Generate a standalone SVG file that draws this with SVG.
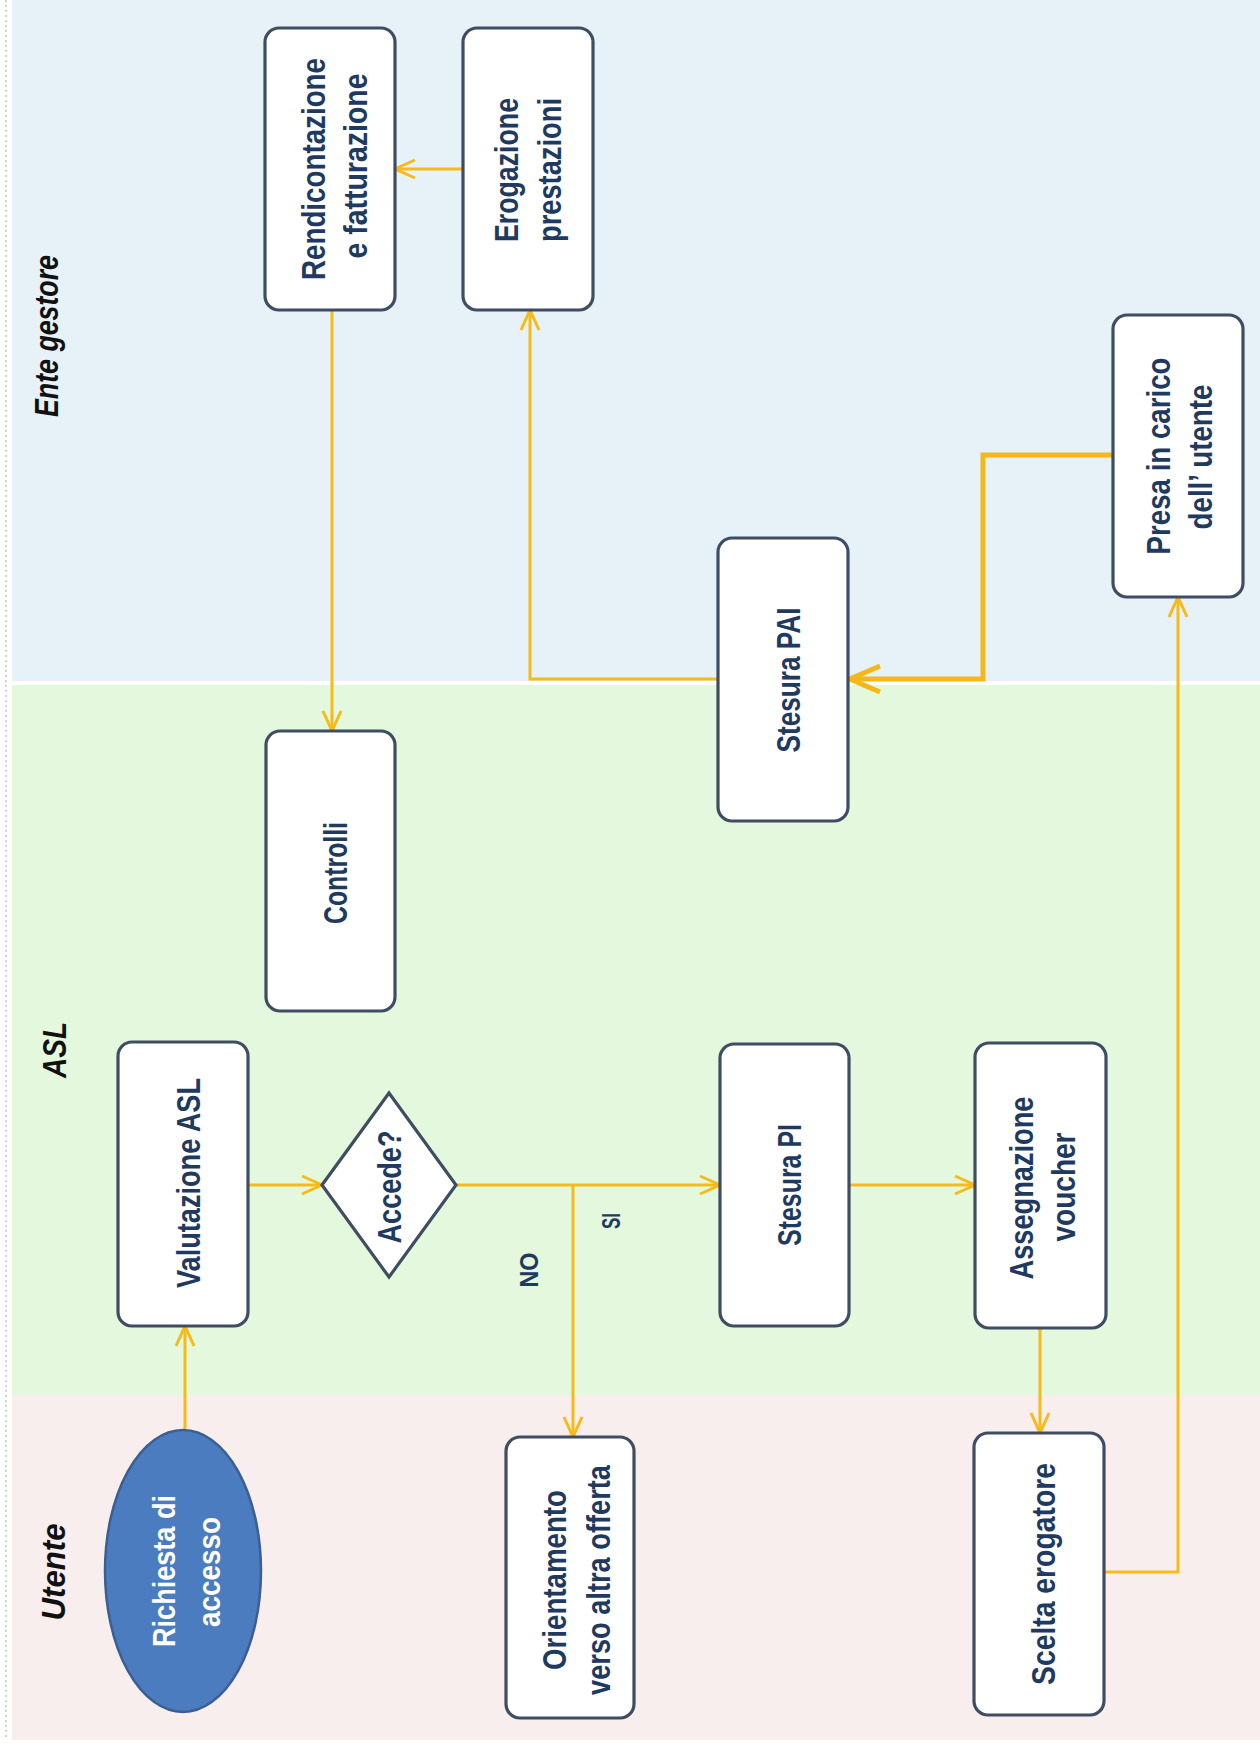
<svg xmlns="http://www.w3.org/2000/svg" width="1260" height="1758" viewBox="0 0 1260 1758">
<defs>
<style>
.lane{font-family:"Liberation Sans Narrow","Liberation Sans",Arial,sans-serif;font-weight:bold;font-style:italic;font-size:34px;fill:#111;text-anchor:middle}
.box{fill:#ffffff;stroke:#3f4d63;stroke-width:3.2}
.t{font-family:"Liberation Sans",Arial,sans-serif;font-weight:bold;font-size:34px;fill:#1f3a60;text-anchor:middle}
.tw{font-family:"Liberation Sans",Arial,sans-serif;font-weight:bold;font-size:32px;fill:#ffffff;text-anchor:middle}
.lbl{font-family:"Liberation Sans",Arial,sans-serif;font-weight:bold;font-size:26px;fill:#1f3a60;text-anchor:middle}
.c{fill:none;stroke:#f5bb1a;stroke-width:3;marker-end:url(#arr)}
.cb{fill:none;stroke:#f5b81a;stroke-width:5;marker-end:url(#arrB)}
</style>
<marker id="arr" markerUnits="userSpaceOnUse" markerWidth="24" markerHeight="22" viewBox="0 0 24 22" refX="22" refY="11" orient="auto">
<path d="M2,2 L22,11 L2,20" fill="none" stroke="#f5bb1a" stroke-width="3"/>
</marker>
<marker id="arrB" markerUnits="userSpaceOnUse" markerWidth="36" markerHeight="32" viewBox="0 0 36 32" refX="34" refY="16" orient="auto">
<path d="M3,3 L33,16 L3,29" fill="none" stroke="#f5b81a" stroke-width="5"/>
</marker>
</defs>

<g id="background">
<rect x="0" y="0" width="1260" height="1758" fill="#ffffff"/>
<rect x="12" y="0" width="1248" height="681" fill="#e7f1f8"/>
<rect x="12" y="685" width="1248" height="710" fill="#e3f8dc"/>
<rect x="12" y="1395" width="1248" height="345" fill="#f8eeee"/>
<line x1="6" y1="0" x2="6" y2="1740" stroke="#c4c4c4" stroke-width="1.5" stroke-dasharray="2,3"/>
</g>

<g id="lanes">
<text class="lane" transform="translate(58,336) rotate(-90)" textLength="162" lengthAdjust="spacingAndGlyphs">Ente gestore</text>
<text class="lane" transform="translate(66,1050) rotate(-90)" textLength="56" lengthAdjust="spacingAndGlyphs">ASL</text>
<text class="lane" transform="translate(65,1572) rotate(-90)" textLength="97" lengthAdjust="spacingAndGlyphs">Utente</text>
</g>

<g id="connectors">
<path class="c" d="M185,1430 V1326"/>
<path class="c" d="M248,1185 H322"/>
<path class="c" d="M456,1185 H720"/>
<path class="c" d="M573,1185 V1437"/>
<path class="c" d="M849,1185 H975"/>
<path class="c" d="M1040,1328 V1433"/>
<path class="c" d="M1104,1572 H1178 V597"/>
<path class="cb" d="M1113,455 H983 V679 H849"/>
<path class="c" d="M718,679 H530 V310"/>
<path class="c" d="M463,169 H395"/>
<path class="c" d="M332,310 V731"/>
<text class="lbl" transform="translate(538,1270) rotate(-90)" textLength="35" lengthAdjust="spacingAndGlyphs">NO</text>
<text class="lbl" transform="translate(620,1221) rotate(-90)" textLength="16" lengthAdjust="spacingAndGlyphs">SI</text>
</g>

<g id="rendicontazione">
<rect class="box" x="265" y="28" width="130" height="282" rx="14"/>
<text class="t" transform="translate(325,169) rotate(-90)" textLength="222" lengthAdjust="spacingAndGlyphs">Rendicontazione</text>
<text class="t" transform="translate(367,166) rotate(-90)" textLength="185" lengthAdjust="spacingAndGlyphs">e fatturazione</text>
</g>

<g id="erogazione">
<rect class="box" x="463" y="28" width="130" height="282" rx="14"/>
<text class="t" transform="translate(518,170) rotate(-90)" textLength="144" lengthAdjust="spacingAndGlyphs">Erogazione</text>
<text class="t" transform="translate(561,170) rotate(-90)" textLength="144" lengthAdjust="spacingAndGlyphs">prestazioni</text>
</g>

<g id="presa">
<rect class="box" x="1113" y="315" width="130" height="282" rx="14"/>
<text class="t" transform="translate(1170,456) rotate(-90)" textLength="197" lengthAdjust="spacingAndGlyphs">Presa in carico</text>
<text class="t" transform="translate(1212,457) rotate(-90)" textLength="145" lengthAdjust="spacingAndGlyphs">dell’ utente</text>
</g>

<g id="stesura-pai">
<rect class="box" x="718" y="538" width="130" height="283" rx="14"/>
<text class="t" transform="translate(800,680) rotate(-90)" textLength="145" lengthAdjust="spacingAndGlyphs">Stesura PAI</text>
</g>

<g id="controlli">
<rect class="box" x="266" y="731" width="129" height="280" rx="14"/>
<text class="t" transform="translate(347,873) rotate(-90)" textLength="102" lengthAdjust="spacingAndGlyphs">Controlli</text>
</g>

<g id="valutazione">
<rect class="box" x="118" y="1042" width="130" height="284" rx="14"/>
<text class="t" transform="translate(200,1183) rotate(-90)" textLength="210" lengthAdjust="spacingAndGlyphs">Valutazione ASL</text>
</g>

<g id="accede">
<polygon class="box" points="322,1185 389,1093 456,1185 389,1277"/>
<text class="t" transform="translate(401,1187) rotate(-90)" textLength="113" lengthAdjust="spacingAndGlyphs">Accede?</text>
</g>

<g id="stesura-pi">
<rect class="box" x="720" y="1044" width="129" height="282" rx="14"/>
<text class="t" transform="translate(801,1185) rotate(-90)" textLength="122" lengthAdjust="spacingAndGlyphs">Stesura PI</text>
</g>

<g id="assegnazione">
<rect class="box" x="975" y="1043" width="131" height="285" rx="14"/>
<text class="t" transform="translate(1033,1188) rotate(-90)" textLength="183" lengthAdjust="spacingAndGlyphs">Assegnazione</text>
<text class="t" transform="translate(1075,1187) rotate(-90)" textLength="109" lengthAdjust="spacingAndGlyphs">voucher</text>
</g>

<g id="richiesta">
<ellipse cx="183" cy="1571" rx="78" ry="141" fill="#4a7cbf" stroke="#3a5f90" stroke-width="2.5"/>
<text class="tw" transform="translate(175,1571) rotate(-90)" textLength="152" lengthAdjust="spacingAndGlyphs">Richiesta di</text>
<text class="tw" transform="translate(220,1572) rotate(-90)" textLength="110" lengthAdjust="spacingAndGlyphs">accesso</text>
</g>

<g id="orientamento">
<rect class="box" x="506" y="1437" width="128" height="281" rx="14"/>
<text class="t" transform="translate(566,1580) rotate(-90)" textLength="180" lengthAdjust="spacingAndGlyphs">Orientamento</text>
<text class="t" transform="translate(610,1580) rotate(-90)" textLength="230" lengthAdjust="spacingAndGlyphs">verso altra offerta</text>
</g>

<g id="scelta">
<rect class="box" x="974" y="1433" width="130" height="282" rx="14"/>
<text class="t" transform="translate(1055,1574) rotate(-90)" textLength="222" lengthAdjust="spacingAndGlyphs">Scelta erogatore</text>
</g>
</svg>
